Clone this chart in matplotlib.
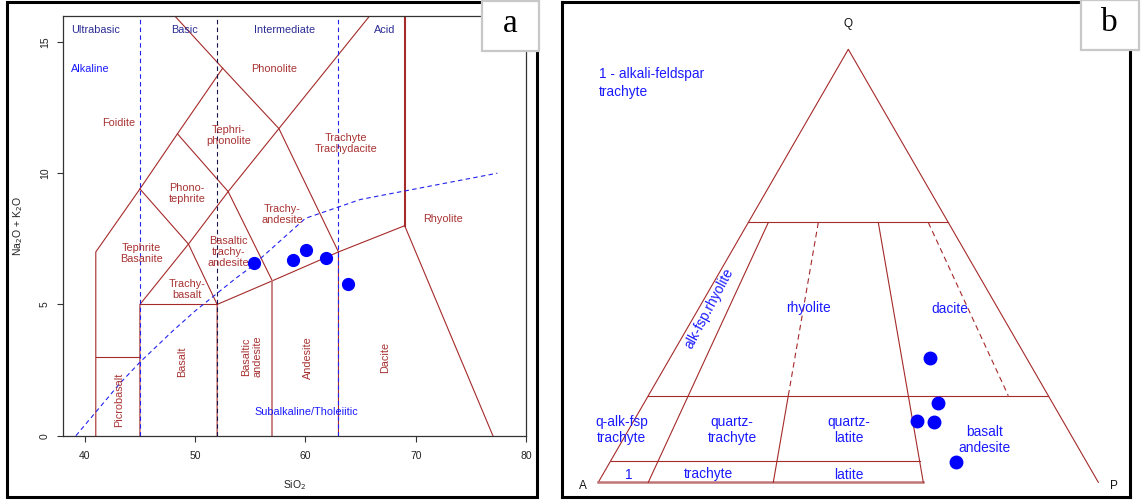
import numpy as np
import matplotlib
matplotlib.use('Agg')
import matplotlib.pyplot as plt
from matplotlib.patches import Rectangle

plt.rcParams['font.family'] = ['Liberation Sans', 'DejaVu Sans']

# ---------------- data ----------------
# TAS samples
sio2 = [55.37, 58.86, 60.08, 61.84, 63.84]
alkali = [6.58, 6.68, 7.06, 6.77, 5.78]
# QAP samples (%)
q_pct = [28.6, 18.2, 14.2, 13.9, 4.6]
a_pct = [19.3, 23.0, 29.1, 25.9, 26.1]
p_pct = [52.1, 58.8, 56.7, 60.2, 69.3]

x_ticks = [40, 50, 60, 70, 80]
y_ticks = [0, 5, 10, 15]

# Irvine & Baragar alkaline/subalkaline divide
ib_sio2 = [39.2, 40, 43.2, 45, 48, 50, 53.7, 55, 60, 65, 77.4]
ib_alk = [0, 0.4, 2, 2.8, 4, 4.75, 6, 6.4, 8.28, 9, 10]

W, H = 1141, 501
fig = plt.figure(figsize=(W / 100, H / 100), dpi=100)

BROWN = '#A52A2A'
TXT_BROWN = '#A83232'
BLUE = '#1a1aff'
NAVY = '#2c2c95'

def fr(x0, y0, x1, y1):
    """pixel box -> figure fraction [l, b, w, h]"""
    return [x0 / W, 1 - y1 / H, (x1 - x0) / W, (y1 - y0) / H]

# ---------------- panel a : TAS ----------------
ax = fig.add_axes(fr(62.7, 15.7, 526, 435.7))
ax.set_xlim(38, 80)
ax.set_ylim(0, 16)

tas_lines = [
    [(41, 0), (41, 7), (45, 9.4), (48.4, 11.5), (52.5, 14)],
    [(41, 3), (45, 3)],
    [(45, 0), (45, 5), (49.4, 7.3), (53, 9.3), (57.6, 11.7), (65.84, 16)],
    [(45, 5), (52, 5)],
    [(52, 0), (52, 5), (57, 5.9), (63, 7), (69, 8), (77, 0)],
    [(45, 9.4), (49.4, 7.3), (52, 5)],
    [(48.4, 11.5), (53, 9.3), (57, 5.9)],
    [(48.14, 16), (52.5, 14), (57.6, 11.7), (63, 7), (63, 0)],
]
for seg in tas_lines:
    xs, ys = zip(*seg)
    ax.plot(xs, ys, color=BROWN, lw=0.8, zorder=2)
ax.plot([57, 57], [0, 5.9], color='#C47878', lw=1.3, zorder=2)
ax.plot([69, 69], [8, 16], color=BROWN, lw=1.5, zorder=2)

for xv, col in [(45, '#2222ee'), (52, '#15154a'), (63, '#2222ee')]:
    ax.plot([xv, xv], [0, 16], color=col, lw=0.8, dashes=(4, 3), zorder=3)

ax.plot(ib_sio2, ib_alk, color='#2222ee', lw=0.8, dashes=(4, 3), zorder=3)

ax.plot(sio2, alkali, 'o', color='#0000ff', ms=8.5, mec='#0000ff', zorder=5)

fs = 7.8
for s, x, y in [('Ultrabasic', 41.0, 15.45), ('Basic', 49.05, 15.45),
                ('Intermediate', 58.15, 15.45), ('Acid', 67.15, 15.45)]:
    ax.text(x, y, s, color=NAVY, fontsize=fs, ha='center', va='center')
ax.text(40.5, 13.96, 'Alkaline', color=BLUE, fontsize=fs, ha='center', va='center')
ax.text(60.1, 0.89, 'Subalkaline/Tholeiitic', color=BLUE, fontsize=fs, ha='center', va='center')

field_labels = [
    ('Phonolite', 57.17, 13.96, 0),
    ('Foidite', 43.1, 11.93, 0),
    ('Tephri-\nphonolite', 53.05, 11.45, 0),
    ('Trachyte\nTrachydacite', 63.67, 11.13, 0),
    ('Phono-\ntephrite', 49.28, 9.24, 0),
    ('Trachy-\nandesite', 57.89, 8.44, 0),
    ('Rhyolite', 72.45, 8.26, 0),
    ('Tephrite\nBasanite', 45.15, 6.93, 0),
    ('Basaltic\ntrachy-\nandesite', 53.01, 7.0, 0),
    ('Trachy-\nbasalt', 49.28, 5.57, 0),
    ('Picrobasalt', 43.15, 1.35, 90),
    ('Basalt', 48.79, 2.83, 90),
    ('Basaltic\nandesite', 55.11, 3.02, 90),
    ('Andesite', 60.2, 2.99, 90),
    ('Dacite', 67.25, 2.99, 90),
]
for s, x, y, r in field_labels:
    ax.text(x, y, s, color=TXT_BROWN, fontsize=fs, ha='center', va='center',
            rotation=r, linespacing=1.15)

ax.set_xticks(x_ticks)
ax.set_yticks(y_ticks)
ax.tick_params(direction='out', length=4.3, width=0.8, color='#333333',
               labelsize=7.5, labelcolor='#222222')
ax.tick_params(axis='x', pad=7)
ax.tick_params(axis='y', pad=5)
for lbl in ax.get_yticklabels():
    lbl.set_rotation(90)
    lbl.set_va('center')
for sp in ax.spines.values():
    sp.set_color('#333333')
    sp.set_linewidth(0.9)
ax.text(0.5, -0.117, 'SiO$_2$', transform=ax.transAxes, ha='center', va='center',
        fontsize=7.5, color='#222222')
ax.text(-0.097, 0.5, 'Na$_2$O + K$_2$O', transform=ax.transAxes, ha='center',
        va='center', rotation=90, fontsize=7.5, color='#222222')

# ---------------- panel b : QAP ----------------
A0x, A0y, SIDE = 598.3, 482.3, 500.0
bx0, by0, bx1, by1 = 562.3, 1.5, 1130, 497
bx = fig.add_axes(fr(bx0, by0, bx1, by1))
bx.set_xlim((bx0 - A0x) / SIDE, (bx1 - A0x) / SIDE)
bx.set_ylim((A0y - by1) / SIDE, (A0y - by0) / SIDE)
bx.set_xticks([])
bx.set_yticks([])
for sp in bx.spines.values():
    sp.set_color('black')
    sp.set_linewidth(2.2)

def tern(q, a, p):
    q = np.asarray(q, float); a = np.asarray(a, float); p = np.asarray(p, float)
    s = q + a + p
    qn, pn = q / s, p / s
    return pn + qn / 2, qn * np.sqrt(3) / 2

def tline(pts, **kw):
    qs, as_, ps = zip(*pts)
    x, y = tern(qs, as_, ps)
    bx.plot(x, y, **kw)

lk = dict(color=BROWN, lw=0.8)
dk = dict(color=BROWN, lw=0.8, dashes=(5, 3.5))
tline([(0, 100, 0), (100, 0, 0), (0, 0, 100)], **lk)
tline([(0, 100, 0), (0, 35, 65)], color='#C07575', lw=1.8)
tline([(60, 40, 0), (60, 0, 40)], **lk)
tline([(20, 80, 0), (20, 0, 80)], **lk)
tline([(5, 95, 0), (5, 95 * 0.35, 95 * 0.65)], **lk)
tline([(60, 36, 4), (0, 90, 10)], **lk)
tline([(60, 26, 14), (20, 52, 28)], **dk)
tline([(20, 52, 28), (0, 65, 35)], **lk)
tline([(60, 14, 26), (0, 35, 65)], **lk)
tline([(60, 4, 36), (20, 8, 72)], **dk)

px_, py_ = tern(q_pct, a_pct, p_pct)
bx.plot(px_, py_, 'o', color='#0000ff', ms=9, mec='#0000ff', zorder=5)

def P(x, y):
    return (x - A0x) / SIDE, (A0y - y) / SIDE

for s, (x, y) in [('Q', (848.1, 24)), ('A', (582.7, 486)), ('P', (1114.4, 486))]:
    bx.text(*P(x, y), s, fontsize=8.5, ha='center', va='center', color='#111111')

fb = 9.9
bx.text(*P(598.9, 82.9), '1 - alkali-feldspar\ntrachyte', fontsize=fb, color=BLUE,
        ha='left', va='center', linespacing=1.3)
bx.text(*P(709, 308), 'alk-fsp.rhyolite', fontsize=fb, color=BLUE, ha='center',
        va='center', rotation=62, rotation_mode='anchor')
qap_labels = [
    ('rhyolite', 808.1, 308.3),
    ('dacite', 949.6, 309.3),
    ('q-alk-fsp\ntrachyte', 621.4, 430.2),
    ('quartz-\ntrachyte', 732.0, 430.2),
    ('quartz-\nlatite', 848.9, 430.2),
    ('basalt\nandesite', 984.8, 440.0),
    ('1', 628.5, 475.0),
    ('trachyte', 708.2, 474.3),
    ('latite', 848.9, 475.3),
]
for s, x, y in qap_labels:
    bx.text(*P(x, y), s, fontsize=fb, color=BLUE, ha='center', va='center',
            linespacing=1.15)

# ---------------- frames and panel tags ----------------
fig.add_artist(Rectangle((7 / W, 1 - 497 / H), (536.7 - 7) / W, (497 - 1.5) / H,
                         transform=fig.transFigure, fill=False, ec='black', lw=2.2,
                         zorder=1))
for tag, (x0, y0, x1, y1), (tx, ty) in [('a', (481.7, 0.5, 539, 51), (510.3, 24)),
                                         ('b', (1080.7, 0.5, 1139, 50), (1109.5, 23))]:
    fig.add_artist(Rectangle((x0 / W, 1 - y1 / H), (x1 - x0) / W, (y1 - y0) / H,
                             transform=fig.transFigure, fc='white', ec='#C8C8C8',
                             lw=1.6, zorder=5))
    fig.text(tx / W, 1 - ty / H, tag, family=['Liberation Serif', 'DejaVu Serif'],
             fontsize=24, ha='center', va='center', zorder=6, color='black')

fig.savefig('out.png', dpi=100)
